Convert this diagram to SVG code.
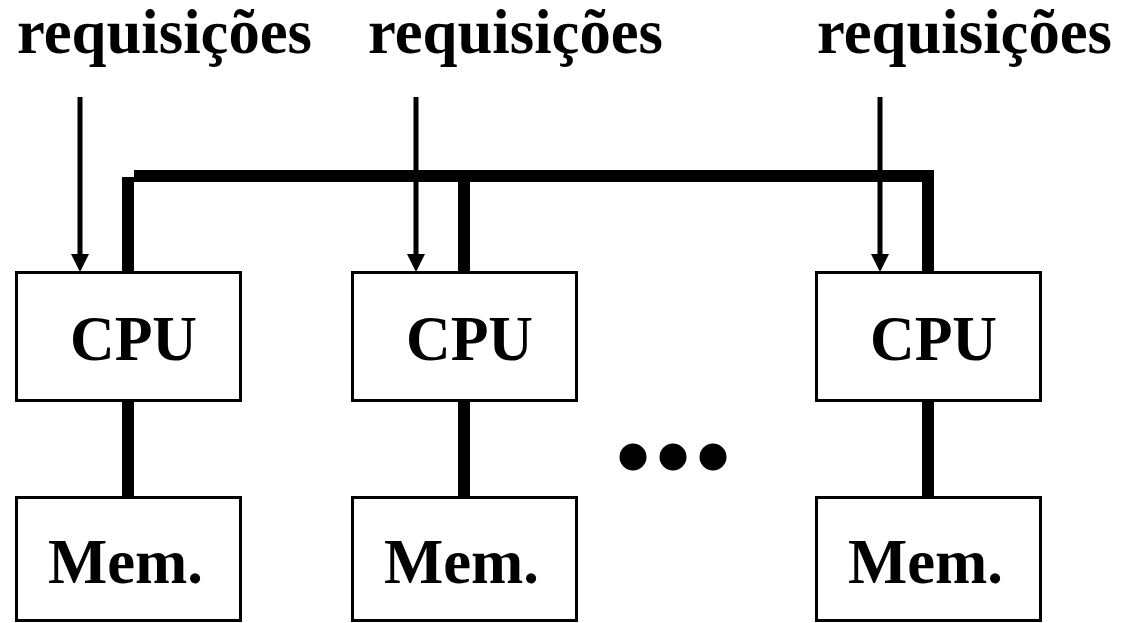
<svg xmlns="http://www.w3.org/2000/svg" width="1123" height="623" viewBox="0 0 1123 623">
<style>
text{font-family:"Liberation Serif","Times New Roman",serif;font-weight:bold;font-size:64px;fill:#000}
.box{fill:#fff;stroke:#000;stroke-width:3}
.bus{stroke:#000;stroke-width:12;fill:none}
.req{stroke:#000;stroke-width:5;fill:none}
</style>
<defs>
<polygon id="ah" points="-9,0 9,0 0,18" fill="#000"/>
</defs>
<rect width="1123" height="623" fill="#fff"/>
<g id="labels">
<text x="17" y="53" textLength="295" lengthAdjust="spacingAndGlyphs">requisições</text>
<text x="368" y="53" textLength="295" lengthAdjust="spacingAndGlyphs">requisições</text>
<text x="817" y="53" textLength="295" lengthAdjust="spacingAndGlyphs">requisições</text>
</g>
<g id="connectors">
<line class="bus" x1="134" y1="176" x2="934" y2="176"/>
<line class="bus" x1="128" y1="177" x2="128" y2="272"/>
<line class="bus" x1="464" y1="176" x2="464" y2="272"/>
<line class="bus" x1="928" y1="170" x2="928" y2="272"/>
<line class="bus" x1="128" y1="401" x2="128" y2="497"/>
<line class="bus" x1="464" y1="401" x2="464" y2="497"/>
<line class="bus" x1="928" y1="401" x2="928" y2="497"/>
<line class="req" x1="80" y1="97" x2="80" y2="256"/>
<use href="#ah" x="80" y="254"/>
<line class="req" x1="416" y1="97" x2="416" y2="256"/>
<use href="#ah" x="416" y="254"/>
<line class="req" x1="880" y1="97" x2="880" y2="256"/>
<use href="#ah" x="880" y="254"/>
</g>
<g id="cpu1"><rect class="box" x="16.5" y="272.5" width="224" height="128"/><text x="70" y="360" textLength="127" lengthAdjust="spacingAndGlyphs">CPU</text></g>
<g id="cpu2"><rect class="box" x="352.5" y="272.5" width="224" height="128"/><text x="406" y="360" textLength="127" lengthAdjust="spacingAndGlyphs">CPU</text></g>
<g id="cpu3"><rect class="box" x="816.5" y="272.5" width="224" height="128"/><text x="870" y="360" textLength="127" lengthAdjust="spacingAndGlyphs">CPU</text></g>
<g id="mem1"><rect class="box" x="16.5" y="497.5" width="224" height="123"/><text x="48" y="583" textLength="155" lengthAdjust="spacingAndGlyphs">Mem.</text></g>
<g id="mem2"><rect class="box" x="352.5" y="497.5" width="224" height="123"/><text x="384" y="583" textLength="155" lengthAdjust="spacingAndGlyphs">Mem.</text></g>
<g id="mem3"><rect class="box" x="816.5" y="497.5" width="224" height="123"/><text x="848" y="583" textLength="155" lengthAdjust="spacingAndGlyphs">Mem.</text></g>
<g id="ellipsis">
<circle cx="633" cy="457" r="13.5"/>
<circle cx="673" cy="457" r="13.5"/>
<circle cx="713" cy="457" r="13.5"/>
</g>
</svg>
